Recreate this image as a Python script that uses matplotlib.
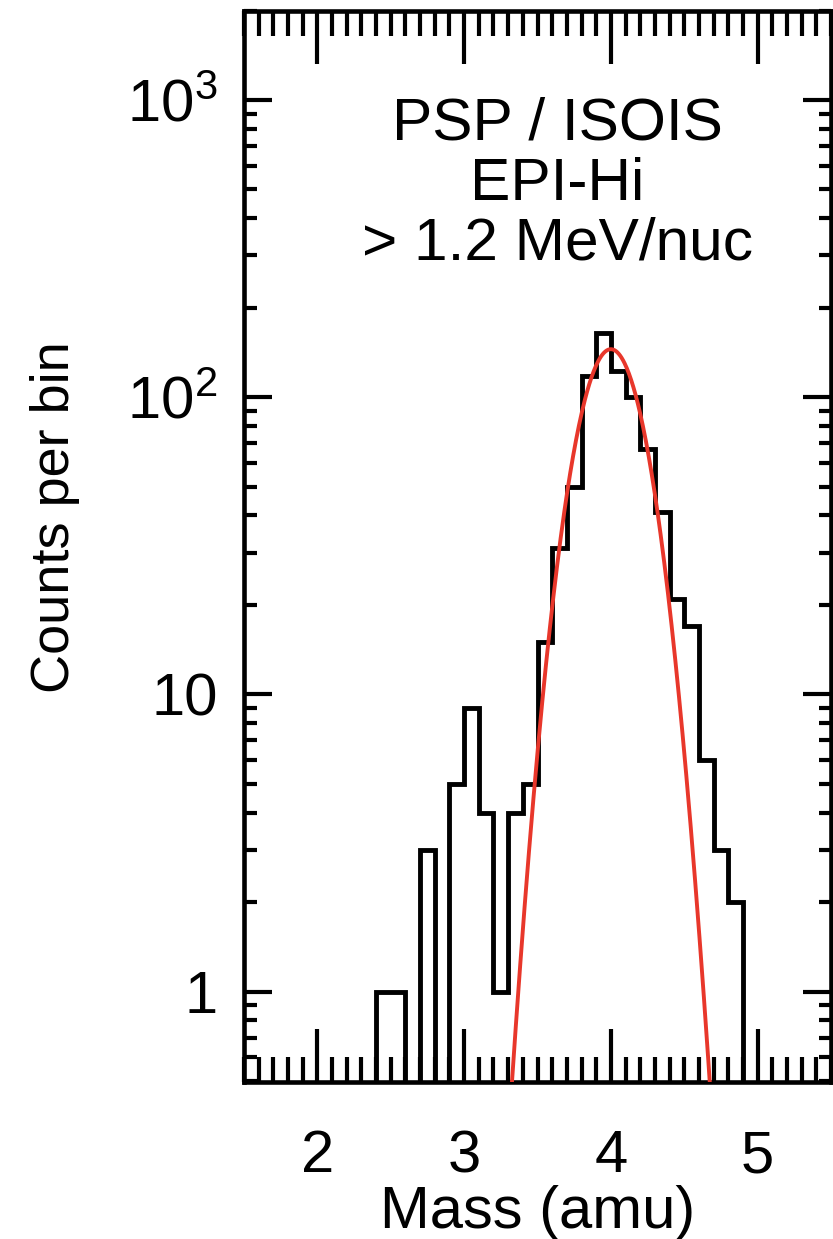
import numpy as np
import matplotlib
matplotlib.use("Agg")
import matplotlib.pyplot as plt
from matplotlib.ticker import MultipleLocator, LogLocator, FixedLocator, FixedFormatter, NullFormatter

# ---- data ----
bin_edges = [2.4, 2.5, 2.6, 2.7, 2.8, 2.9, 3.0, 3.1, 3.2, 3.3, 3.4, 3.5, 3.6,
             3.7, 3.8, 3.9, 4.0, 4.1, 4.2, 4.3, 4.4, 4.5, 4.6, 4.7, 4.8, 4.9]
counts = [1, 1, 0, 3, 0, 5, 9, 4, 1, 4, 5, 15, 31, 50, 118, 165, 122, 100,
          67, 41, 21, 17, 6, 3, 2]
# Gaussian fit parameters (red curve)
fit_amp = 145.0
fit_mean = 4.0
fit_sigma = 0.20

x_ticks = [2, 3, 4, 5]
x_ticklabels = ["2", "3", "4", "5"]
y_ticks = [1, 10, 100, 1000]
y_ticklabels = ["1", "10", r"$\mathregular{10^2}$", r"$\mathregular{10^3}$"]
title_lines = ["PSP / ISOIS", "EPI-Hi", "> 1.2 MeV/nuc"]

plt.rcParams['font.family'] = ['Liberation Sans', 'DejaVu Sans']
plt.rcParams['mathtext.fontset'] = 'custom'
plt.rcParams['mathtext.rm'] = 'Liberation Sans'
plt.rcParams['mathtext.it'] = 'Liberation Sans'

W, H = 833, 1239
fig = plt.figure(figsize=(W / 100, H / 100), dpi=100)
L, R, T, B = 244, 831, 10.5, 1082
ax = fig.add_axes([L / W, (H - B) / H, (R - L) / W, (B - T) / H])

ax.set_yscale('log', nonpositive='clip')
ax.set_xlim(1.5, 5.5)
ax.set_ylim(0.496, 2000)

ax.stairs(counts, bin_edges, baseline=0, color='black', lw=3.5, zorder=3)

xf = np.linspace(1.5, 5.5, 800)
yf = fit_amp * np.exp(-0.5 * ((xf - fit_mean) / fit_sigma) ** 2)
ax.plot(xf, yf, color='#e8372b', lw=2.8, zorder=4)

for s in ax.spines.values():
    s.set_linewidth(3.3)

ax.xaxis.set_major_locator(FixedLocator(x_ticks))
ax.xaxis.set_major_formatter(FixedFormatter(x_ticklabels))
ax.xaxis.set_minor_locator(MultipleLocator(0.1))
ax.yaxis.set_major_locator(FixedLocator(y_ticks))
ax.yaxis.set_major_formatter(FixedFormatter(y_ticklabels))
ax.yaxis.set_minor_locator(LogLocator(base=10, subs=np.arange(2, 10)))
ax.yaxis.set_minor_formatter(NullFormatter())

ax.tick_params(axis='x', which='major', direction='in', length=38, width=3.0,
               top=True, bottom=True, labelsize=43, pad=34)
ax.tick_params(axis='x', which='minor', direction='in', length=18, width=3.0,
               top=True, bottom=True)
ax.tick_params(axis='y', which='major', direction='in', length=20, width=3.0,
               left=True, right=True, labelsize=43, pad=19)
ax.tick_params(axis='y', which='minor', direction='in', length=9, width=3.0,
               left=True, right=True)

ax.set_xlabel("Mass (amu)", fontsize=43, va='baseline')
ax.xaxis.set_label_coords(0.5, (B - 1228) / (B - T))
ax.set_ylabel("Counts per bin", fontsize=39)
ax.yaxis.set_label_coords((80 - L) / (R - L), (B - 517) / (B - T))

for line, ypx in zip(title_lines, [140, 200, 260]):
    ax.text((557 - L) / (R - L), (B - ypx) / (B - T), line,
            transform=ax.transAxes, ha='center', va='baseline', fontsize=43.5)

fig.savefig("out.png", dpi=100)
